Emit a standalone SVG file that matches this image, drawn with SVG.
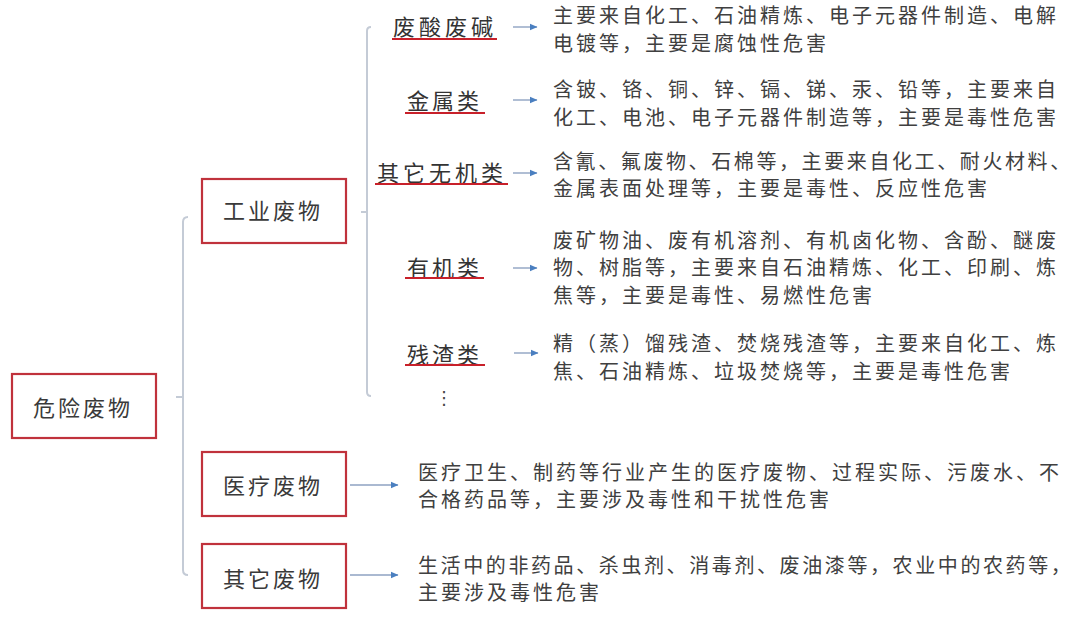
<svg xmlns="http://www.w3.org/2000/svg" width="1080" height="619" viewBox="0 0 1080 619">
<defs>
<marker id="ah" markerWidth="8" markerHeight="8" refX="7" refY="4" orient="auto" markerUnits="userSpaceOnUse">
<path d="M0,0.8 L7.5,4 L0,7.2 Z" fill="#4a7fc0"/>
</marker>
<style>
.box{fill:#ffffff;stroke:#c0323c;stroke-width:2.2}
.lbl{font-family:"Noto Sans CJK SC","Noto Sans",sans-serif;font-size:22px;fill:#3a3a3a;letter-spacing:3px}
.sub{font-family:"Noto Sans CJK SC","Noto Sans",sans-serif;font-size:22px;fill:#333333;letter-spacing:4px}
.desc{font-family:"Noto Sans CJK SC","Noto Sans",sans-serif;font-size:20px;fill:#404040;letter-spacing:3px}
.ul{stroke:#c8202a;stroke-width:2.2;fill:none}
.br{stroke:#c4cbd6;stroke-width:2;fill:none}
.arr{stroke:#8ea2c2;stroke-width:1.4;fill:none;marker-end:url(#ah)}
</style>
</defs>
<rect width="1080" height="619" fill="#ffffff"/>

<g id="connectors">
<path class="br" d="M188,217 Q183,217 183,222 L183,570 Q183,575 188,575"/>
<path class="br" d="M176,397 L183,397"/>
<path class="br" d="M371,27 Q367,27 367,31 L367,392 Q367,396 371,396"/>
<path class="br" d="M361,212 L367,212"/>
<line class="arr" x1="513" y1="27" x2="537" y2="27"/>
<line class="arr" x1="513" y1="100" x2="537" y2="100"/>
<line class="arr" x1="513" y1="173" x2="537" y2="173"/>
<line class="arr" x1="513" y1="268" x2="537" y2="268"/>
<line class="arr" x1="514" y1="353" x2="538" y2="353"/>
<line class="arr" x1="350" y1="485" x2="398" y2="485"/>
<line class="arr" x1="350" y1="575" x2="398" y2="575"/>
</g>

<g id="n-hazardous">
<rect class="box" x="12" y="374" width="144" height="64"/>
<text class="lbl" x="33" y="416">危险废物</text>
</g>

<g id="n-industrial">
<rect class="box" x="202" y="179" width="144" height="64"/>
<text class="lbl" x="223" y="219">工业废物</text>
</g>

<g id="n-medical">
<rect class="box" x="202" y="452" width="144" height="64"/>
<text class="lbl" x="223" y="494">医疗废物</text>
</g>

<g id="n-otherwaste">
<rect class="box" x="202" y="544" width="144" height="64"/>
<text class="lbl" x="223" y="587">其它废物</text>
</g>

<g id="n-acid">
<text class="sub" x="393" y="35">废酸废碱</text>
<line class="ul" x1="392" y1="39" x2="497" y2="39"/>
</g>

<g id="n-metal">
<text class="sub" x="407" y="109" style="letter-spacing:3px">金属类</text>
<line class="ul" x1="405" y1="113" x2="485" y2="113"/>
</g>

<g id="n-inorganic">
<text class="sub" x="377" y="181">其它无机类</text>
<line class="ul" x1="375" y1="184" x2="508" y2="184"/>
</g>

<g id="n-organic">
<text class="sub" x="407" y="276" style="letter-spacing:3px">有机类</text>
<line class="ul" x1="405" y1="278" x2="484" y2="278"/>
</g>

<g id="n-residue">
<text class="sub" x="407" y="363" style="letter-spacing:3px">残渣类</text>
<line class="ul" x1="405" y1="365" x2="485" y2="365"/>
</g>

<g id="n-ellipsis">
<text x="444" y="404" text-anchor="middle" style="font-family:'DejaVu Sans',sans-serif;font-size:18px;fill:#444444">⋮</text>
</g>

<g id="d-acid">
<text class="desc" x="553" y="23">主要来自化工、石油精炼、电子元器件制造、电解</text>
<text class="desc" x="553" y="51">电镀等，主要是腐蚀性危害</text>
</g>

<g id="d-metal">
<text class="desc" x="553" y="97">含铍、铬、铜、锌、镉、锑、汞、铅等，主要来自</text>
<text class="desc" x="553" y="125">化工、电池、电子元器件制造等，主要是毒性危害</text>
</g>

<g id="d-inorganic">
<text class="desc" x="553" y="169" style="letter-spacing:2.6px">含氰、氟废物、石棉等，主要来自化工、耐火材料、</text>
<text class="desc" x="553" y="196">金属表面处理等，主要是毒性、反应性危害</text>
</g>

<g id="d-organic">
<text class="desc" x="553" y="248">废矿物油、废有机溶剂、有机卤化物、含酚、醚废</text>
<text class="desc" x="553" y="275">物、树脂等，主要来自石油精炼、化工、印刷、炼</text>
<text class="desc" x="553" y="303">焦等，主要是毒性、易燃性危害</text>
</g>

<g id="d-residue">
<text class="desc" x="553" y="351">精（蒸）馏残渣、焚烧残渣等，主要来自化工、炼</text>
<text class="desc" x="553" y="379">焦、石油精炼、垃圾焚烧等，主要是毒性危害</text>
</g>

<g id="d-medical">
<text class="desc" x="418" y="480">医疗卫生、制药等行业产生的医疗废物、过程实际、污废水、不</text>
<text class="desc" x="418" y="507">合格药品等，主要涉及毒性和干扰性危害</text>
</g>

<g id="d-other">
<text class="desc" x="418" y="573" style="letter-spacing:2.6px">生活中的非药品、杀虫剂、消毒剂、废油漆等，农业中的农药等，</text>
<text class="desc" x="418" y="600">主要涉及毒性危害</text>
</g>
</svg>
